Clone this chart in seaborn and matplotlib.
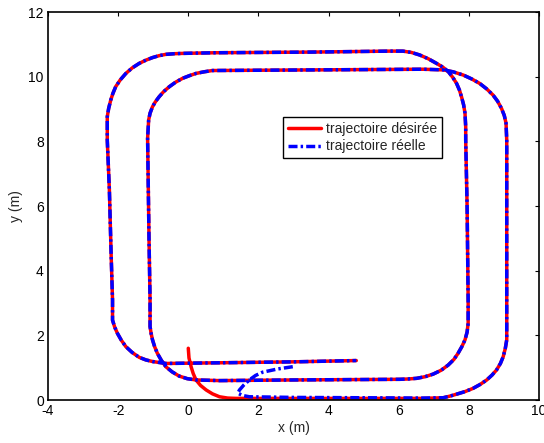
import matplotlib
matplotlib.use("Agg")
import matplotlib.pyplot as plt
import seaborn as sns
import pandas as pd

# Desired trajectory (x, y in metres), traced in driving order
desired_x = [0.00, 0.02, 0.08, 0.14, 0.22, 0.35, 0.51, 0.69, 0.89, 1.12, 1.36,
             3.00, 6.69, 7.27,
             7.46, 7.65, 7.89, 8.12, 8.32, 8.51, 8.66, 8.79, 8.90, 8.98, 9.04, 9.08,
             9.08, 9.08,
             9.06, 9.01, 8.93, 8.82, 8.69, 8.51, 8.31, 8.08, 7.84, 7.55, 7.27, 6.69, 3.50, 0.69,
             0.45, 0.22, 0.03, -0.16, -0.36, -0.54, -0.70, -0.83, -0.94, -1.02, -1.09, -1.13, -1.16,
             -1.12, -1.09, -1.09,
             -1.06, -1.02, -0.96, -0.88, -0.77, -0.64, -0.46, -0.26, -0.03, 0.22, 0.89,
             3.00, 5.74, 6.03,
             6.27, 6.51, 6.75, 6.98, 7.21, 7.41, 7.57, 7.69, 7.80, 7.89, 7.95, 7.98,
             7.98, 7.95, 7.91,
             7.91, 7.89, 7.85, 7.79, 7.73, 7.65, 7.54, 7.41, 7.25, 7.08, 6.85, 6.60, 6.36, 6.12,
             5.74, 3.50, 0.79,
             0.30, -0.16, -0.40, -0.64, -0.83, -1.02, -1.21, -1.40, -1.60, -1.78, -1.94, -2.07,
             -2.15, -2.21, -2.27, -2.31, -2.31, -2.31,
             -2.25, -2.20, -2.16, -2.16,
             -2.10, -2.02, -1.91, -1.78, -1.60, -1.40, -1.21, -1.02, -0.64, 0.89, 3.00, 4.79]
desired_y = [1.60, 1.30, 1.03, 0.82, 0.62, 0.45, 0.31, 0.19, 0.10, 0.06, 0.05,
             0.05, 0.05, 0.07,
             0.12, 0.18, 0.26, 0.36, 0.48, 0.62, 0.77, 0.93, 1.13, 1.34, 1.60, 1.86,
             5.00, 8.04,
             8.56, 8.80, 9.02, 9.24, 9.43, 9.62, 9.79, 9.93, 10.05, 10.15, 10.21, 10.23, 10.21, 10.19,
             10.15, 10.10, 10.03, 9.95, 9.83, 9.69, 9.54, 9.38, 9.22, 9.07, 8.87, 8.66, 8.09,
             5.00, 3.09, 2.27,
             2.06, 1.86, 1.65, 1.44, 1.23, 1.03, 0.87, 0.74, 0.66, 0.62, 0.60,
             0.62, 0.64, 0.64,
             0.65, 0.67, 0.72, 0.80, 0.92, 1.08, 1.25, 1.44, 1.65, 1.86, 2.10, 2.37,
             3.09, 6.00, 8.04,
             8.45, 8.87, 9.13, 9.38, 9.59, 9.79, 9.98, 10.16, 10.30, 10.41, 10.55, 10.67, 10.75, 10.79,
             10.79, 10.76, 10.74,
             10.73, 10.72, 10.71, 10.69, 10.65, 10.59, 10.51, 10.41, 10.27, 10.10, 9.90, 9.69,
             9.48, 9.28, 9.02, 8.76, 8.50, 8.04,
             6.50, 4.50, 3.09, 2.47,
             2.26, 2.06, 1.85, 1.65, 1.47, 1.32, 1.24, 1.19, 1.13, 1.15, 1.18, 1.22]

# Measured trajectory: different start, then it follows the reference path
start_x = [2.98, 2.55, 2.12, 1.92, 1.74, 1.58, 1.46, 1.41, 1.55, 1.74, 3.00, 6.69, 7.27]
start_y = [1.03, 0.96, 0.86, 0.76, 0.62, 0.46, 0.31, 0.21, 0.14, 0.10, 0.08, 0.06, 0.07]
real_x = start_x + desired_x[14:]
real_y = start_y + desired_y[14:]

desired = pd.DataFrame({"x": desired_x, "y": desired_y})
real = pd.DataFrame({"x": real_x, "y": real_y})

sns.set_style("white")
plt.rcParams["font.family"] = ["Liberation Sans", "DejaVu Sans"]
plt.rcParams["axes.unicode_minus"] = False

fig = plt.figure(figsize=(5.44, 4.43), dpi=100)
ax = fig.add_axes([48 / 544, 43 / 443, 491 / 544, 388 / 443])

sns.lineplot(data=desired, x="x", y="y", sort=False, estimator=None,
             color="#ff0000", linewidth=2.5, label="trajectoire désirée", ax=ax)
sns.lineplot(data=real, x="x", y="y", sort=False, estimator=None,
             color="#0000ff", linewidth=2.5, label="trajectoire réelle", ax=ax)
ax.lines[1].set_dashes((2.6, 0.9, 0.7, 0.9))

ax.set_xlim(-4, 10)
ax.set_ylim(0, 12)
ax.set_xticks(range(-4, 11, 2))
ax.set_yticks(range(0, 13, 2))
ax.set_xlabel("x (m)", fontsize=10, labelpad=2)
ax.set_ylabel("y (m)", fontsize=10, labelpad=4)
ax.tick_params(direction="in", top=True, right=True, length=3, width=0.8,
               labelsize=10, pad=3, colors="black")
for s in ax.spines.values():
    s.set_visible(True)
    s.set_color("black")
    s.set_linewidth(1.2)

leg = ax.legend(loc="upper left", bbox_to_anchor=(0.479, 0.729), fontsize=10,
                frameon=True, fancybox=False, shadow=False, framealpha=1,
                edgecolor="black", handlelength=2.4, handletextpad=0.3,
                borderpad=0.35, labelspacing=0.25, borderaxespad=0)
leg.get_frame().set_linewidth(1.0)
for ln in leg.get_lines():
    ln.set_linewidth(2.5)
leg.get_lines()[1].set_dashes((2.6, 0.9, 0.7, 0.9))

fig.savefig("out.png", dpi=100)
